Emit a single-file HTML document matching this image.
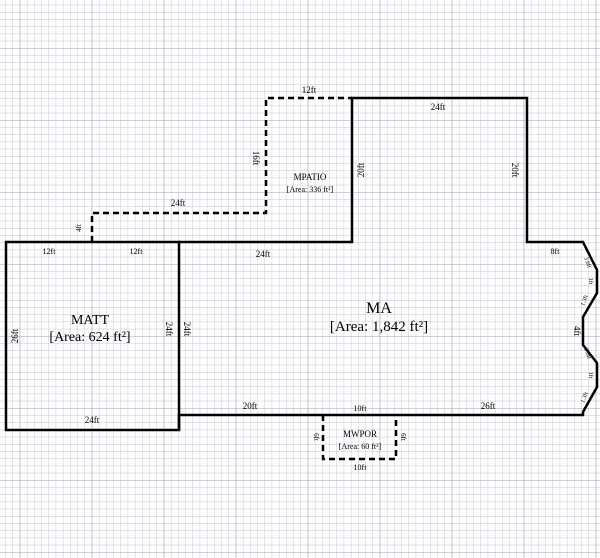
<!DOCTYPE html>
<html><head><meta charset="utf-8"><style>
html,body{margin:0;padding:0;background:#fff;}
svg{display:block;font-family:"Liberation Serif",serif;}
</style></head><body>
<svg width="600" height="558" viewBox="0 0 600 558" xmlns="http://www.w3.org/2000/svg">
<defs>
<pattern id="minor" x="5.3" y="4.8" width="7.2" height="7.2" patternUnits="userSpaceOnUse">
<path d="M0 0H7.2M0 0V7.2" stroke="#c4c4d4" stroke-width="0.9" fill="none"/>
</pattern>
<pattern id="major" x="19.7" y="48" width="72" height="72" patternUnits="userSpaceOnUse">
<path d="M0 0H72M0 0V72" stroke="#a0a0b0" stroke-width="1" fill="none"/>
</pattern>
</defs>
<rect width="600" height="558" fill="url(#minor)"/>
<rect width="600" height="558" fill="url(#major)"/>

<g fill="none" stroke="#000" stroke-width="2.5" stroke-dasharray="6,4">
<path d="M92 242V213H266V98H352"/>
<path d="M323 415V459H396V415"/>
</g>
<g fill="none" stroke="#000" stroke-width="2.5">
<rect x="6" y="242" width="173" height="188"/>
<path d="M179 242H352V98H527V242H583L597 270V293L583 317V345L597 363V387L583 412V415H179V430"/>
</g>

<g font-size="9" text-anchor="middle">
<text x="309" y="93">12ft</text>
<text x="438" y="110">24ft</text>
<text x="178" y="206">24ft</text>
<text x="49" y="254" font-size="8">12ft</text>
<text x="136" y="254" font-size="8">12ft</text>
<text x="263" y="257">24ft</text>
<text x="555" y="254" font-size="8">8ft</text>
<text x="92" y="423">24ft</text>
<text x="250" y="409">20ft</text>
<text x="360" y="411" font-size="8">10ft</text>
<text x="488" y="409">26ft</text>
<text x="360" y="470" font-size="8">10ft</text>
<text transform="translate(253,158) rotate(90)" >16ft</text>
<text transform="translate(364,170) rotate(-90)">20ft</text>
<text transform="translate(512,170) rotate(90)">20ft</text>
<text transform="translate(18,336) rotate(-90)">26ft</text>
<text transform="translate(166,329) rotate(90)">24ft</text>
<text transform="translate(184,329) rotate(90)">24ft</text>
<text transform="translate(574,331) rotate(90)">4ft</text>
<text transform="translate(81,228) rotate(-90)" font-size="7">4ft</text>
<text transform="translate(314,437) rotate(90)" font-size="7">6ft</text>
<text transform="translate(401,437) rotate(90)" font-size="7">6ft</text>
<text x="310" y="180" font-size="9">MPATIO</text>
<text x="310" y="192" font-size="8">[Area: 336 ft²]</text>
<text x="360" y="437" font-size="9">MWPOR</text>
<text x="360" y="449" font-size="8">[Area: 60 ft²]</text>
</g>
<g font-size="6" text-anchor="middle">
<text transform="translate(586,263) rotate(70)">3.6ft</text>
<text transform="translate(589,281) rotate(90)">1ft</text>
<text transform="translate(586,301) rotate(-70)">1.3ft</text>
<text transform="translate(586,354) rotate(70)">3.6ft</text>
<text transform="translate(589,375) rotate(90)">1ft</text>
<text transform="translate(586,398) rotate(-70)">1.3ft</text>
</g>
<g text-anchor="middle" font-size="14">
<text x="90" y="324">MATT</text>
<text x="90" y="341">[Area: 624 ft²]</text>
<text x="379" y="313" font-size="16">MA</text>
<text x="379" y="331" font-size="15">[Area: 1,842 ft²]</text>
</g>
</svg>
</body></html>
